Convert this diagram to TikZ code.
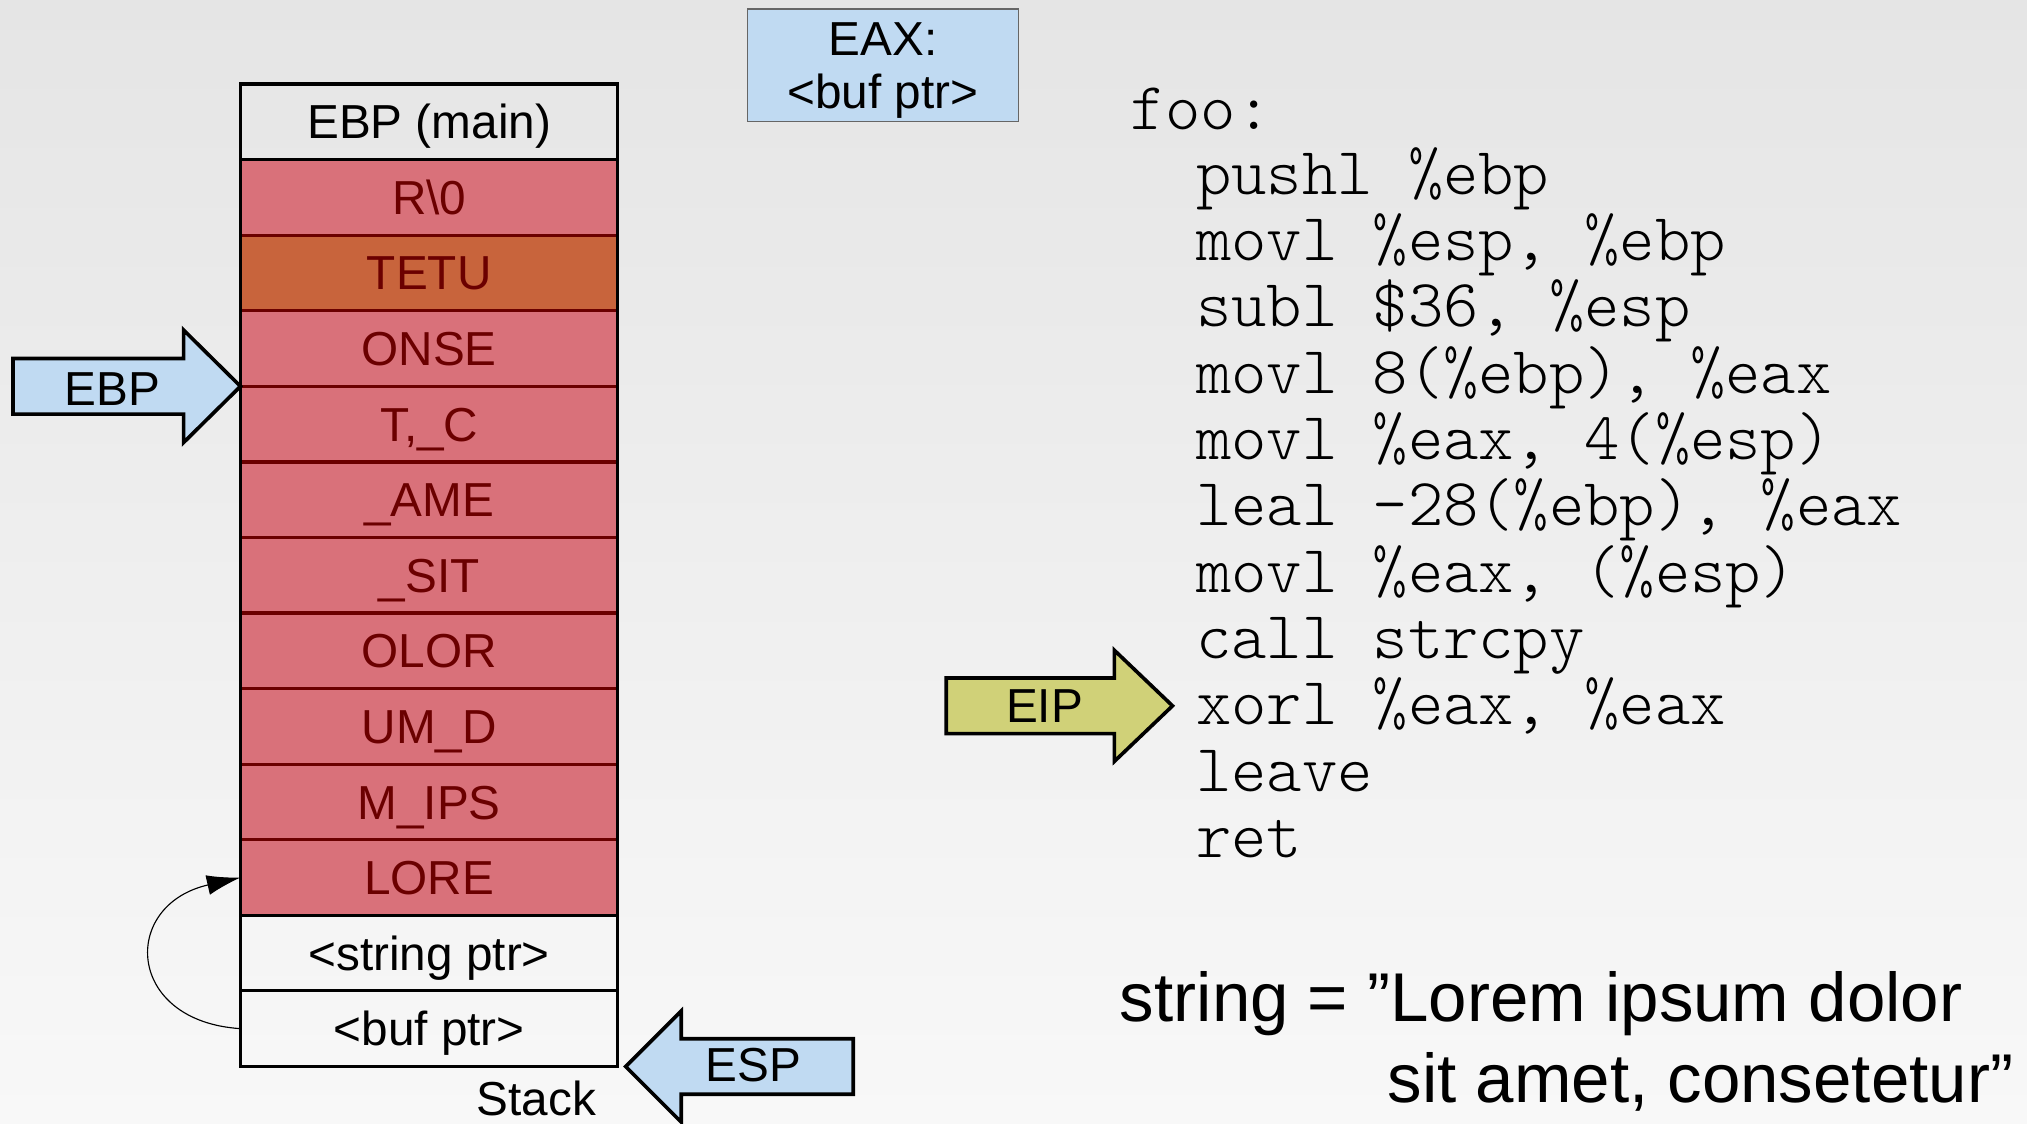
\documentclass[tikz,border=0pt]{standalone}
\usepackage{fontspec}
\setmainfont{Liberation Sans}
\newfontfamily\codefont{Latin Modern Mono Light}
\usetikzlibrary{positioning,arrows.meta}
\definecolor{bgtop}{HTML}{E5E5E5}
\definecolor{bgbot}{HTML}{F8F8F8}
\definecolor{regblue}{HTML}{C0DAF2}
\definecolor{eipyellow}{HTML}{D0D178}
\definecolor{bufred}{HTML}{D9717A}
\definecolor{bufdark}{HTML}{6B0000}
\definecolor{bufhit}{HTML}{C8643C}
\tikzset{
  slot/.style={draw=black,line width=1.4pt,minimum width=5.84cm,minimum height=1.169cm,
               inner sep=0pt,outer sep=0pt,font=\fontsize{21}{23}\selectfont,
               text height=19pt,text depth=4pt},
  rslot/.style={slot,draw=bufdark,fill=bufred,text=bufdark},
  oslot/.style={rslot,fill=bufhit},
  reg/.style={draw=black!60,line width=0.5pt,fill=regblue,align=center,minimum width=4.2cm,
              minimum height=1.74cm,inner sep=0pt,text depth=0pt,font=\fontsize{21}{23.3}\selectfont},
  ptr/.style={draw=black,line width=1.6pt,line join=miter,fill=regblue},
  lbl/.style={inner sep=0pt,font=\fontsize{21}{23}\selectfont},
  code/.style={anchor=base west,inner sep=0pt,font=\fontsize{29.6}{31}\selectfont\codefont},
  strtxt/.style={anchor=base west,inner sep=0pt,font=\fontsize{30.4}{34}\selectfont},
  arr/.style={-{Latex[length=0.52cm,width=0.31cm]},line width=0.5pt}
}
\begin{document}
\begin{tikzpicture}[x=0.02cm,y=-0.02cm]
  \fill[top color=bgtop,bottom color=bgbot] (0,0) rectangle (1568,869);
  \useasboundingbox (0,0) rectangle (1568,869);
  % the stack
  \foreach \i/\txt/\s in {2/R\textbackslash 0/rslot,3/TETU/oslot,4/ONSE/rslot,5/{T,\_C}/rslot,
      6/\_AME/rslot,7/\_SIT/rslot,8/OLOR/rslot,9/UM\_D/rslot,10/M\_IPS/rslot,11/LORE/rslot}
    \node[\s] (c\i) at (332,65+58.46*\i-29.23) {\txt};
  \node[slot,above=0pt of c2] (c1) {EBP (main)};
  \node[slot,below=0pt of c11] (c12) {<string ptr>};
  \node[slot,below=0pt of c12] (c13) {<buf ptr>};
  \draw[line width=1.4pt] (c1.north west) rectangle (c13.south east);
  \node[lbl] (stacklbl) at (415,850) {Stack};
  \draw[arr] (c13.west) .. controls (97,790) and (93,700) .. (c11.west);
  % registers
  \node[reg] (eax) at (683,50.5) {EAX:\\<buf ptr>};
  \draw[ptr] (c4.south west) -- ++(-44,-43.5) -- ++(0,22) -- ++(-132,0) -- ++(0,43)
    -- ++(132,0) -- ++(0,22) -- cycle;
  \node[lbl] (ebplbl) at (87,301) {EBP};
  \coordinate (esptip) at (484,825);
  \draw[ptr] (esptip) -- ++(43,-43) -- ++(0,21.5) -- ++(133,0) -- ++(0,43)
    -- ++(-133,0) -- ++(0,21.5) -- cycle;
  \node[lbl] (esplbl) at (583,824) {ESP};
  \coordinate (eiptip) at (907,546);
  \draw[ptr,fill=eipyellow] (eiptip) -- ++(-45,-43) -- ++(0,21.5) -- ++(-130,0) -- ++(0,43)
    -- ++(130,0) -- ++(0,21.5) -- cycle;
  \node[lbl] (eiplbl) at (808,546) {EIP};
  % code
  \node[code] (foo) at (874,100) {foo:};
  \foreach \ins [count=\k] in {{pushl \%ebp},{movl \%esp, \%ebp},{subl \$36, \%esp},
      {movl 8(\%ebp), \%eax},{movl \%eax, 4(\%esp)},{leal -28(\%ebp), \%eax},
      {movl \%eax, (\%esp)},{call strcpy},{xorl \%eax, \%eax},{leave},{ret}}
    \node[code] (ins\k) at (925,99+51.3*\k) {\ins};
  \node[strtxt] (str1) at (866,790) {string = ”Lorem ipsum dolor};
  \node[strtxt] (str2) at (1073,853) {sit amet, consetetur”};
\end{tikzpicture}
\end{document}
